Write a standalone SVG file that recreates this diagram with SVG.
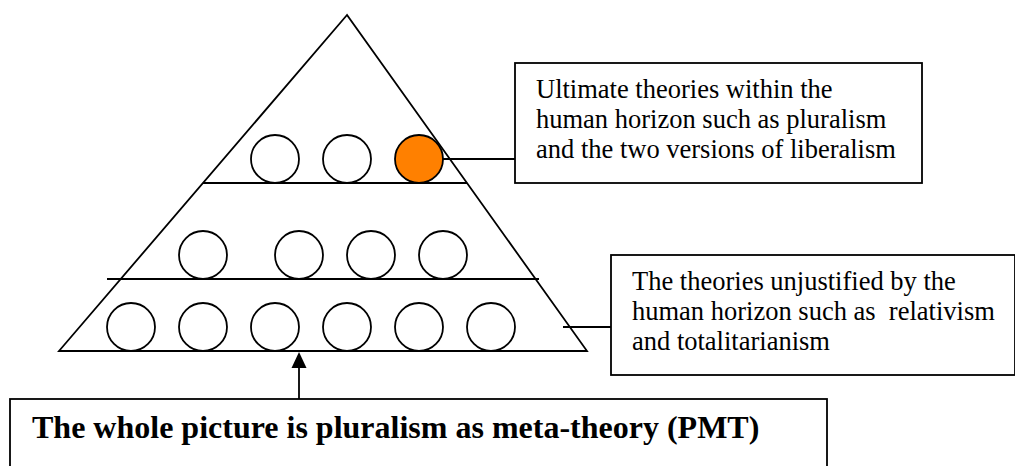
<svg xmlns="http://www.w3.org/2000/svg" width="1015" height="466" viewBox="0 0 1015 466">
<style>
.s{fill:none;stroke:#000;stroke-width:1.8}
.c{fill:#fff;stroke:#000;stroke-width:1.8}
.box{fill:#fff;stroke:#000;stroke-width:1.8}
.t{font-family:"Liberation Serif","Times New Roman",serif;font-size:26.5px;fill:#000}
.b{font-family:"Liberation Serif","Times New Roman",serif;font-size:32px;font-weight:bold;fill:#000}
</style>
<rect width="1015" height="466" fill="#fff"/>
<g id="pyramid">
<polygon class="s" points="347,15 59,351 587,351"/>
<line class="s" x1="203" y1="183" x2="467" y2="183"/>
<line class="s" x1="107" y1="279" x2="539" y2="279"/>
</g>
<g id="row-top">
<circle class="c" cx="275" cy="159" r="24"/>
<circle class="c" cx="347" cy="159" r="24"/>
<circle cx="419" cy="159" r="24" fill="#FF8000" stroke="#000" stroke-width="1.8"/>
</g>
<g id="row-middle">
<circle class="c" cx="203" cy="255" r="24"/>
<circle class="c" cx="299" cy="255" r="24"/>
<circle class="c" cx="371" cy="255" r="24"/>
<circle class="c" cx="443" cy="255" r="24"/>
</g>
<g id="row-bottom">
<circle class="c" cx="131" cy="327" r="24"/>
<circle class="c" cx="203" cy="327" r="24"/>
<circle class="c" cx="275" cy="327" r="24"/>
<circle class="c" cx="347" cy="327" r="24"/>
<circle class="c" cx="419" cy="327" r="24"/>
<circle class="c" cx="491" cy="327" r="24"/>
</g>
<g id="connectors">
<line class="s" x1="443" y1="159" x2="515" y2="159"/>
<line class="s" x1="563" y1="327" x2="611" y2="327"/>
<line class="s" x1="299" y1="399" x2="299" y2="366"/>
<polygon points="299,352 291.5,368 306.5,368" fill="#000"/>
</g>
<g id="box-ultimate">
<rect class="box" x="515" y="63" width="407" height="120"/>
<text class="t" x="536" y="98">Ultimate theories within the</text>
<text class="t" x="536" y="128">human horizon such as pluralism</text>
<text class="t" x="536" y="158">and the two versions of liberalism</text>
</g>
<g id="box-unjustified">
<rect class="box" x="611" y="255" width="404" height="120"/>
<text class="t" x="632" y="290">The theories unjustified by the</text>
<text class="t" x="632" y="320" xml:space="preserve">human horizon such as  relativism</text>
<text class="t" x="632" y="350">and totalitarianism</text>
</g>
<g id="box-pmt">
<rect class="box" x="10" y="399" width="817" height="90"/>
<text class="b" x="32" y="438">The whole picture is pluralism as meta-theory (PMT)</text>
</g>
</svg>
